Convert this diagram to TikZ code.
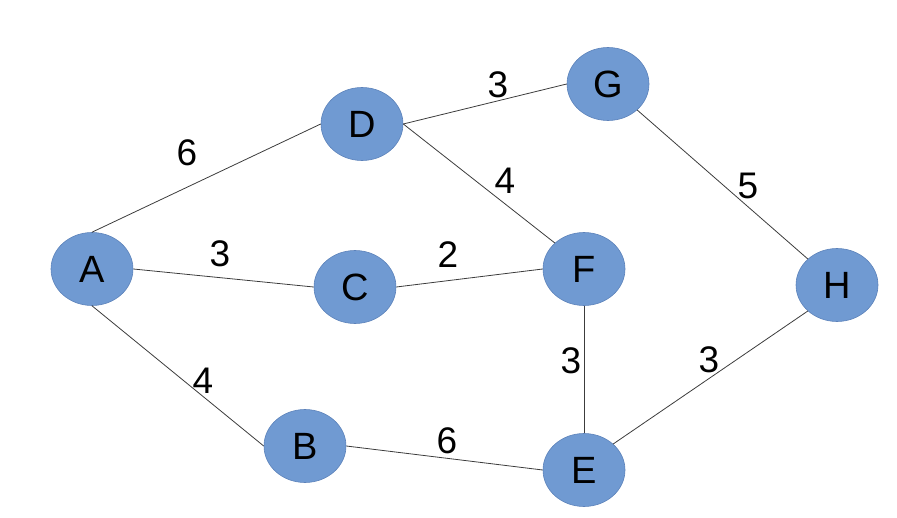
\documentclass[tikz,border=0pt]{standalone}
\usepackage{fontspec}
\setmainfont{Liberation Sans}
\usetikzlibrary{shapes.geometric}
\definecolor{nodefill}{RGB}{112,154,210}
\definecolor{nodeedge}{RGB}{92,130,186}
\definecolor{edgecol}{RGB}{60,60,60}
\tikzset{
  vert/.style={ellipse, fill=nodefill, draw=nodeedge, line width=0.6pt, minimum width=82pt, minimum height=73pt, inner sep=0pt, font=\fontsize{38}{42}\selectfont},
  wlabel/.style={inner sep=0pt, font=\fontsize{37}{41}\selectfont},
  link/.style={draw=edgecol, line width=0.8pt}
}
\begin{document}
\begin{tikzpicture}[x=1pt,y=-1pt]
\useasboundingbox (0,0) rectangle (897,518);
\node[vert] (A) at (92,269) {A};
\node[vert] (D) at (362,124) {D};
\node[vert] (G) at (608,84) {G};
\node[vert] (C) at (355,287) {C};
\node[vert] (F) at (584,269) {F};
\node[vert] (H) at (837,285) {H};
\node[vert] (B) at (305,446) {B};
\node[vert] (E) at (584,470) {E};
\path[link] (A.north) -- (D.west);
\path[link] (A.east) -- (C.west);
\path[link] (A.south) -- (B.west);
\path[link] (D.east) -- (G.west);
\path[link] (D.east) -- (F.north west);
\path[link] (C.east) -- (F.west);
\path[link] (F.south) -- (E.north);
\path[link] (B.east) -- (E.west);
\path[link] (G.south east) -- (H.north west);
\path[link] (E.north east) -- (H.south west);
\node[wlabel] (l1) at (187,153) {6};
\node[wlabel] (l2) at (498,85) {3};
\node[wlabel] (l3) at (505,181) {4};
\node[wlabel] (l4) at (748,186) {5};
\node[wlabel] (l5) at (220,254) {3};
\node[wlabel] (l6) at (448,255) {2};
\node[wlabel] (l7) at (571,361) {3};
\node[wlabel] (l8) at (709,360) {3};
\node[wlabel] (l9) at (203,381) {4};
\node[wlabel] (l10) at (447,441) {6};
\end{tikzpicture}
\end{document}
